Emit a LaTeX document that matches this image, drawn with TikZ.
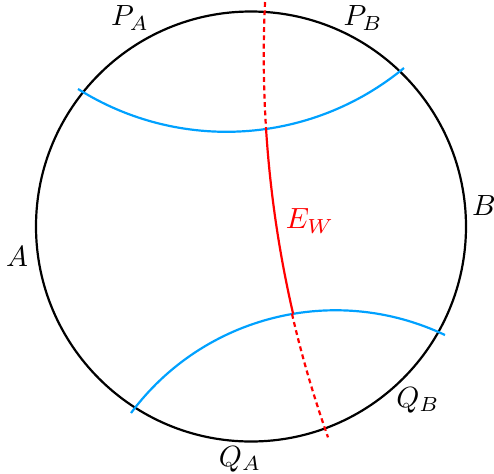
\documentclass[tikz,border=0pt]{standalone}
\usepackage{tkz-euclide}
\definecolor{ArcClr}{rgb}{0,0.63,1}
\definecolor{EdgeClr}{rgb}{1,0,0}
\tikzset{lbl/.style={scale=1.33}}

\begin{document}
\begin{tikzpicture}
\useasboundingbox (-4.016,-3.944) rectangle (3.888,3.624);

\tkzDefPoints{0/0/O,3.44/0/E}
\tkzDefPoints{0.224/3.592/T,0.24/1.56/M,0.656/-1.40/N,1.248/-3.368/S}
\tkzDefPoints{-2.768/2.2/P1,2.448/2.536/P2}
\tkzDefPoints{-1.92/-2.984/Q1,3.104/-1.736/Q2}

\tkzDefTriangleCenter[circum](T,M,S)\tkzGetPoint{Oe}
\tkzDefTriangleCenter[circum](P1,M,P2)\tkzGetPoint{Op}
\tkzDefTriangleCenter[circum](Q1,N,Q2)\tkzGetPoint{Oq}

\tkzDrawCircle[line width=1pt,color=black](O,E)

\tkzDrawArc[line width=1pt,color=ArcClr](Op,P1)(P2)
\tkzDrawArc[line width=1pt,color=ArcClr](Oq,Q2)(Q1)

\tkzDrawArc[line width=1pt,color=EdgeClr,dash pattern=on 2.2pt off 1.6pt](Oe,T)(M)
\tkzDrawArc[line width=1pt,color=EdgeClr](Oe,M)(N)
\tkzDrawArc[line width=1pt,color=EdgeClr,dash pattern=on 2.2pt off 1.6pt](Oe,N)(S)

\node[lbl] (pa) at (-1.936,3.336) {$P_A$};
\node[lbl] (pb) at (1.792,3.336) {$P_B$};
\node[lbl] (a) at (-3.744,-0.488) {$A$};
\node[lbl] (b) at (3.728,0.328) {$B$};
\node[lbl] (qa) at (-0.176,-3.72) {$Q_A$};
\node[lbl] (qb) at (2.672,-2.776) {$Q_B$};
\node[lbl,text=EdgeClr] (ew) at (0.944,0.088) {$E_W$};

\end{tikzpicture}
\end{document}
